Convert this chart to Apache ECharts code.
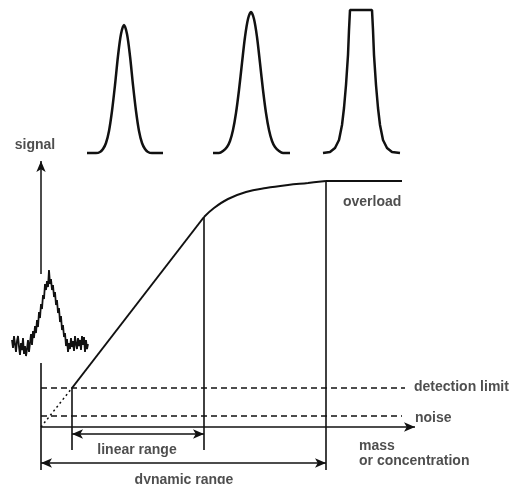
<!DOCTYPE html>
<html>
<head>
<meta charset="utf-8">
<style>
  html, body { margin: 0; padding: 0; background: #fff; }
  #echarts { width: 509px; height: 484px; }
</style>
<script src="https://cdn.jsdelivr.net/npm/echarts@6/dist/echarts.min.js"></script>
</head>
<body>
<div id="echarts"></div>
<script>
// diagram coordinates (x to the right, y downwards)
var peakSmall = [[87,153],[96,153],[100,152],[103,149],[106,143],[109,131],[112,111],[115,85],[118,56],[121,34],[124,25],[127,34],[130,56],[133,85],[136,111],[139,131],[142,143],[145,149],[148,152],[152,153],[163,153]];
var peakLarge = [[213,153],[219,153],[223,151],[227,147],[230,141],[233,130],[236,113],[239,90],[242,63],[245,37],[248,19],[251,12],[254,19],[257,37],[260,63],[263,90],[266,113],[269,130],[272,141],[275,147],[279,151],[283,153],[290,153]];
var peakFlat = [[323,153],[330,152],[335,148],[339,140],[342,125],[344,108],[346,85],[348,55],[349,30],[350,10],[372,10],[373,30],[374,55],[376,85],[378,108],[380,125],[383,140],[387,148],[392,152],[400,153]];

var noiseTrace = [[12,340],[13,348],[14,336],[15,344],[16,352],[17,341],[18,336],[19,347],[20,355],[21,343],[22,350],[23,338],[24,354],[25,346],[26,356],[27,349],[28,340],[29,352],[30,343],[31,334],[32,345],[33,331],[34,338],[35,326],[36,333],[37,320],[38,327],[39,312],[40,318],[41,304],[42,309],[43,295],[44,299],[45,284],[46,290],[47,281],[48,287],[49,270],[50,284],[51,279],[52,290],[53,285],[54,297],[55,292],[56,305],[57,300],[58,313],[59,308],[60,322],[61,316],[62,330],[63,325],[64,337],[65,333],[66,346],[67,339],[68,352],[69,343],[70,349],[71,338],[72,347],[73,341],[74,351],[75,336],[76,344],[77,349],[78,338],[79,346],[80,340],[81,350],[82,336],[83,345],[84,337],[85,352],[86,340],[87,349],[88,344]];

var linearPart = [[72,388],[204,217]];
var bendPart = [[204,217],[214,208],[228,199],[246,192],[266,188],[288,185],[308,183],[326,181]];
var plateau = [[326,181],[402,181]];
var extrapolation = [[41,427],[72,388]];
var detectionLimit = [[41,388],[405,388]];
var noiseLevel = [[41,416],[402,416]];

var verticals = [
    [[41,363],[41,470]],
    [[72,388],[72,450]],
    [[204,217],[204,450]],
    [[326,181],[326,470]]
];
var signalAxis = [[41,274],[41,161]];
var massAxis = [[41,427],[415,427]];
var linearRange = [[72,434],[204,434]];
var dynamicRange = [[41,463],[326,463]];

var labels = [
    [35,145,'signal'],
    [343,202,'overload'],
    [414,387,'detection limit'],
    [415,418,'noise'],
    [359,446,'mass'],
    [359,461,'or concentration'],
    [137,450,'linear range'],
    [184,480,'dynamic range']
];
var labelAlign = ['center','left','left','left','left','left','center','center'];

document.addEventListener('DOMContentLoaded', showData);

function lineSeries(data, width, type, smooth){
    return {
        type: 'line',
        data: data,
        showSymbol: false,
        smooth: smooth || false,
        silent: true,
        lineStyle: { color: '#111', width: width, type: type || 'solid' },
        z: 3
    };
}

function arrowSeries(pairs, symbols){
    return {
        type: 'line',
        data: [],
        silent: true,
        markLine: {
            silent: true,
            animation: false,
            symbol: symbols,
            symbolSize: [7, 11],
            label: { show: false },
            lineStyle: { color: '#111', width: 1.5, type: 'solid' },
            data: pairs.map(function(p){
                return [{ coord: p[0] }, { coord: p[1] }];
            })
        }
    };
}

function showData(){
    let myChart = echarts.init(document.getElementById('echarts'));
    var series = [
        lineSeries(peakSmall, 2.5, 'solid', 0.3),
        lineSeries(peakLarge, 2.5, 'solid', 0.3),
        lineSeries(peakFlat, 2.5),
        lineSeries(noiseTrace, 1.8),
        lineSeries(linearPart, 2),
        lineSeries(bendPart, 2, 'solid', 0.4),
        lineSeries(plateau, 2),
        lineSeries(extrapolation, 1.5, [2, 3]),
        lineSeries(detectionLimit, 1.4, [6, 4]),
        lineSeries(noiseLevel, 1.4, [6, 4])
    ];
    verticals.forEach(function(v){
        series.push(lineSeries(v, 1.6));
    });
    series.push(arrowSeries([signalAxis, massAxis], ['none', 'arrow']));
    series.push(arrowSeries([linearRange, dynamicRange], ['arrow', 'arrow']));
    series.push({
        type: 'scatter',
        symbolSize: 0,
        silent: true,
        data: labels.map(function(l, i){
            return {
                value: [l[0], l[1]],
                label: {
                    show: true,
                    position: 'inside',
                    formatter: l[2],
                    align: labelAlign[i],
                    verticalAlign: 'middle',
                    color: '#222',
                    fontFamily: 'Liberation Sans',
                    fontWeight: 'bold',
                    fontSize: 14
                }
            };
        })
    });
    var option = {
        animation: false,
        grid: { left: 0, top: 0, right: 0, bottom: 0 },
        xAxis: { type: 'value', min: 0, max: 509, show: false },
        yAxis: { type: 'value', min: 0, max: 484, inverse: true, show: false },
        series: series
    };
    myChart.setOption(option);
}
</script>
</body>
</html>
